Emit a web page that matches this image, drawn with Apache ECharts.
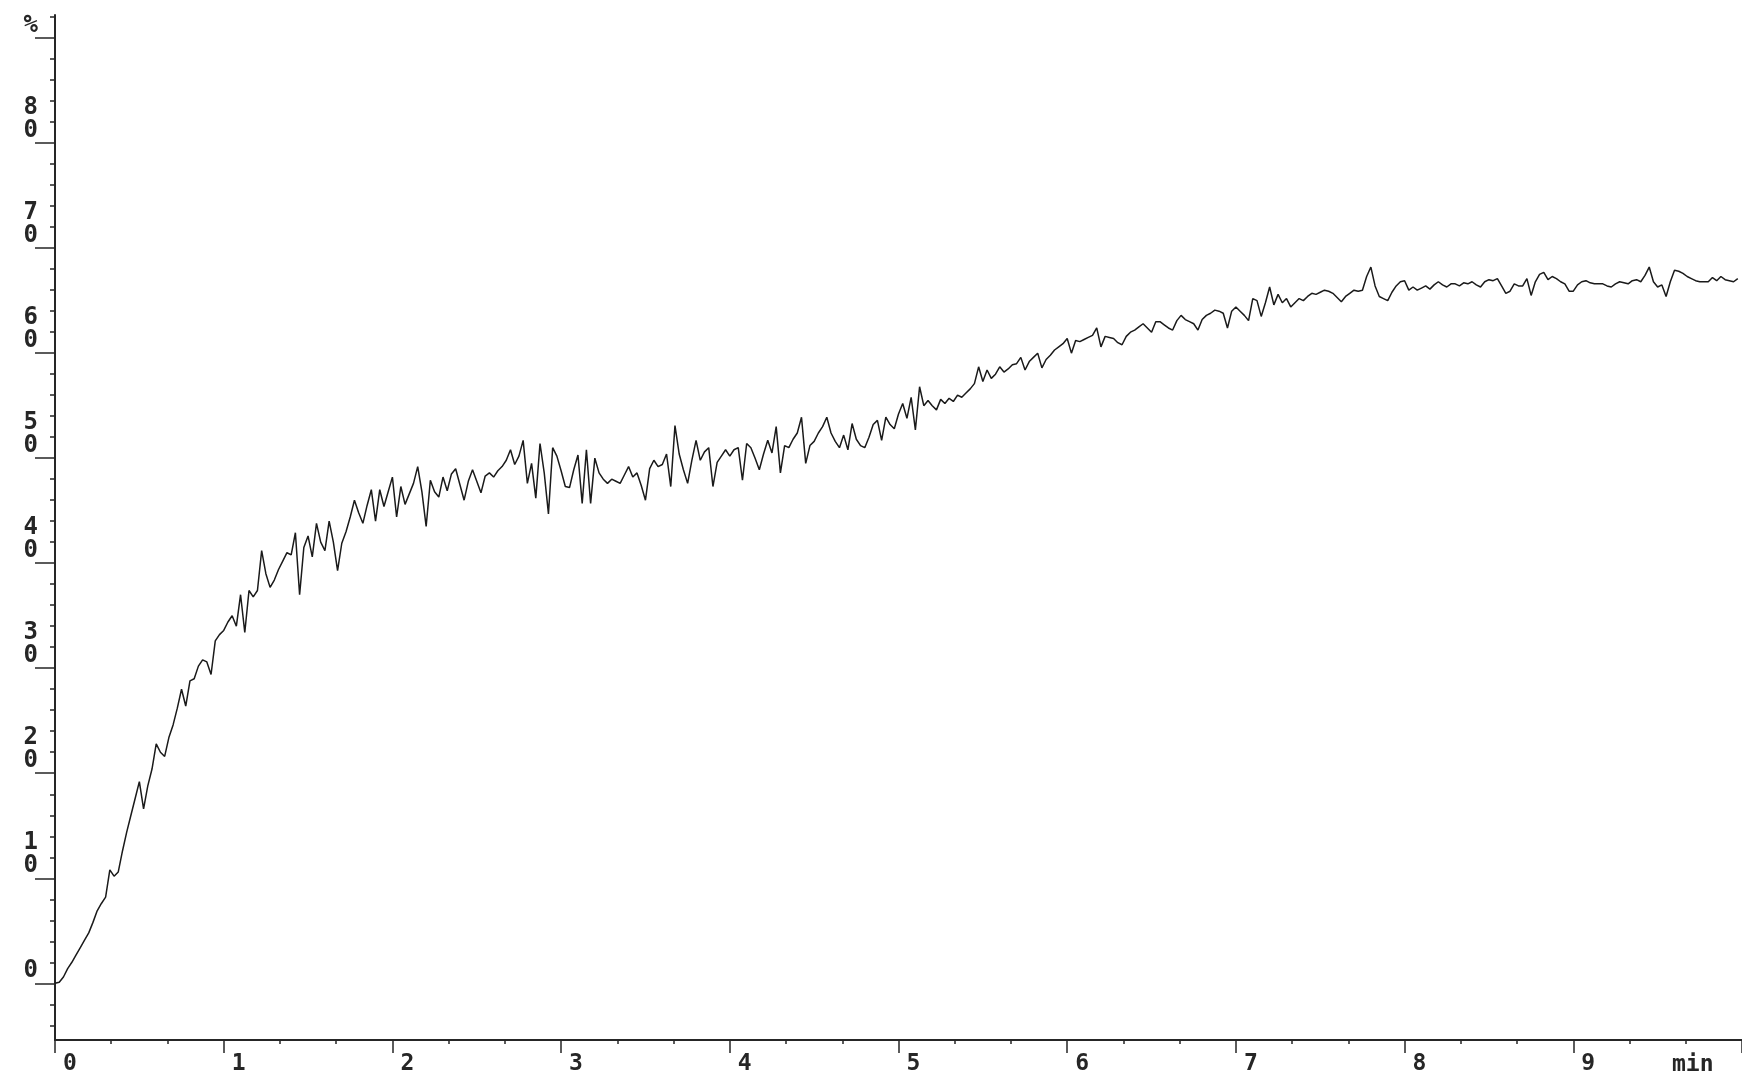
<!DOCTYPE html>
<html>
<head>
<meta charset="utf-8">
<title>Trace</title>
<script src="https://cdn.jsdelivr.net/npm/echarts@6/dist/echarts.min.js"></script>
<style>
  html, body { margin: 0; padding: 0; background: #fff; }
  #chart { width: 1742px; height: 1077px; }
</style>
</head>
<body>
<div id="chart"></div>
<script>
// sampling interval of the trace, minutes
const sampleStep = 0.025;

// signal in %, one value per sample (4 per 0.1 min)
const signal = [
  0.0, 0.1, 0.6, 1.4,    2.0, 2.7, 3.4, 4.1,    4.8, 5.8, 6.9, 7.6,    8.2, 10.8, 10.2, 10.6,
  12.6, 14.4, 16.0, 17.6, 19.2, 16.6, 18.8, 20.4, 22.8, 22.0, 21.6, 23.4, 24.6, 26.2, 28.0, 26.4,
  28.8, 29.0, 30.2, 30.8, 30.6, 29.4, 32.6, 33.2, 33.6, 34.4, 35.0, 34.0, 37.0, 33.4, 37.4, 36.8,
  37.4, 41.2, 39.0, 37.7, 38.4, 39.4, 40.2, 41.0, 40.8, 42.9, 37.0, 41.5, 42.6, 40.6, 43.8, 42.0,
  41.2, 44.0, 42.0, 39.3, 41.9, 43.0, 44.4, 46.0, 44.8, 43.8, 45.5, 47.0, 44.0, 47.0, 45.4, 46.8,
  48.2, 44.4, 47.3, 45.6, 46.6, 47.6, 49.2, 46.8, 43.5, 47.9, 46.8, 46.3, 48.2, 46.9, 48.5, 49.0,
  47.5, 46.0, 47.8, 48.9, 47.8, 46.7, 48.3, 48.6, 48.2, 48.8, 49.2, 49.8, 50.8, 49.4, 50.2, 51.7,
  47.6, 49.5, 46.2, 51.4, 48.6, 44.7, 51.0, 50.2, 48.8, 47.3, 47.2, 48.9, 50.3, 45.7, 50.8, 45.7,
  50.0, 48.6, 48.0, 47.6, 48.0, 47.8, 47.6, 48.4, 49.2, 48.2, 48.6, 47.4, 46.0, 49.0, 49.8, 49.2,
  49.4, 50.4, 47.3, 53.1, 50.4, 48.9, 47.6, 49.8, 51.7, 49.8, 50.6, 51.0, 47.3, 49.6, 50.2, 50.8,
  50.2, 50.8, 51.0, 47.9, 51.4, 51.0, 50.0, 48.9, 50.4, 51.7, 50.5, 53.0, 48.6, 51.2, 51.0, 51.8,
  52.4, 53.9, 49.5, 51.2, 51.6, 52.4, 53.0, 53.9, 52.4, 51.6, 51.0, 52.2, 50.8, 53.3, 51.8, 51.2,
  51.0, 52.0, 53.2, 53.6, 51.7, 53.9, 53.2, 52.8, 54.2, 55.2, 53.8, 55.8, 52.7, 56.8, 55.0, 55.5,
  55.0, 54.6, 55.6, 55.2, 55.7, 55.4, 56.0, 55.8, 56.2, 56.6, 57.1, 58.7, 57.3, 58.4, 57.6, 58.0,
  58.7, 58.2, 58.5, 58.9, 59.0, 59.6, 58.4, 59.2, 59.6, 60.0, 58.6, 59.4, 59.8, 60.3, 60.6, 60.9,
  61.4, 60.0, 61.2, 61.1, 61.3, 61.5, 61.7, 62.4, 60.6, 61.6, 61.5, 61.4, 61.0, 60.8, 61.6, 62.0,
  62.2, 62.5, 62.8, 62.4, 62.0, 63.0, 63.0, 62.7, 62.4, 62.2, 63.1, 63.6, 63.2, 63.0, 62.8, 62.2,
  63.2, 63.6, 63.8, 64.1, 64.0, 63.8, 62.4, 64.0, 64.4, 64.0, 63.6, 63.1, 65.2, 65.0, 63.5, 64.8,
  66.3, 64.6, 65.6, 64.8, 65.2, 64.4, 64.8, 65.2, 65.0, 65.4, 65.7, 65.6, 65.8, 66.0, 65.9, 65.7,
  65.3, 64.9, 65.4, 65.7, 66.0, 65.9, 66.0, 67.3, 68.2, 66.4, 65.4, 65.2, 65.0, 65.8, 66.4, 66.8,
  66.9, 66.0, 66.3, 66.0, 66.2, 66.4, 66.1, 66.5, 66.8, 66.5, 66.3, 66.6, 66.6, 66.4, 66.7, 66.6,
  66.8, 66.5, 66.3, 66.8, 67.0, 66.9, 67.1, 66.4, 65.7, 65.9, 66.6, 66.4, 66.4, 67.1, 65.5, 66.8,
  67.5, 67.7, 67.0, 67.3, 67.1, 66.8, 66.6, 65.9, 65.9, 66.5, 66.8, 66.9, 66.7, 66.6, 66.6, 66.6,
  66.4, 66.3, 66.6, 66.8, 66.7, 66.6, 66.9, 67.0, 66.8, 67.4, 68.2, 66.8, 66.3, 66.5, 65.4, 66.8,
  67.9, 67.8, 67.6, 67.3, 67.1, 66.9, 66.8, 66.8, 66.8, 67.2, 66.9, 67.3, 67.0, 66.9, 66.8, 67.1
];

// axis ticks
const yMajorTicks = [0, 10, 20, 30, 40, 50, 60, 70, 80, 90];
const yMinorTicks = [-4, -2, 2, 4, 6, 8, 12, 14, 16, 18, 22, 24, 26, 28, 32, 34, 36, 38,
  42, 44, 46, 48, 52, 54, 56, 58, 62, 64, 66, 68, 72, 74, 76, 78, 82, 84, 86, 88, 92];
const yUnit = '%';
const xUnit = 'min';

const ink = '#262626';
const font = '"DejaVu Sans Mono", "Liberation Mono", monospace';

const chart = echarts.init(document.getElementById('chart'), null, { renderer: 'canvas' });

const option = {
  backgroundColor: '#ffffff',
  animation: false,
  textStyle: { fontFamily: font },
  grid: { left: 55, top: 15, width: 1692, bottom: 37, containLabel: false },
  xAxis: {
    type: 'value',
    min: 0,
    max: 10,
    interval: 1,
    name: xUnit,
    nameLocation: 'end',
    nameGap: -70,
    nameTextStyle: {
      color: ink, fontFamily: font, fontWeight: 'bold', fontSize: 23,
      verticalAlign: 'top', align: 'left', padding: [14, 0, 0, 0]
    },
    axisLine: { show: true, onZero: false, lineStyle: { color: ink, width: 2 } },
    axisTick: { show: true, length: 13, lineStyle: { color: ink, width: 1.5 } },
    minorTick: { show: true, splitNumber: 3, length: 4, lineStyle: { color: ink, width: 1.5 } },
    splitLine: { show: false },
    axisLabel: {
      color: ink, fontFamily: font, fontWeight: 'bold', fontSize: 23,
      align: 'left', margin: 13, padding: [0, 0, 0, 8],
      showMaxLabel: false,
      formatter: v => (v >= 10 ? '' : String(v))
    }
  },
  yAxis: [
    {
      type: 'value',
      position: 'left',
      min: -5.4,
      max: 92.2,
      axisLine: { show: true, onZero: false, lineStyle: { color: ink, width: 2 } },
      axisTick: { show: true, length: 20, customValues: yMajorTicks, lineStyle: { color: ink, width: 1.5 } },
      splitLine: { show: false },
      axisLabel: {
        customValues: yMajorTicks,
        color: ink, fontFamily: font, fontWeight: 'bold', fontSize: 24,
        lineHeight: 23, margin: 17, verticalAlign: 'bottom', padding: [0, 0, 1, 0],
        formatter: v => (v === 90 ? yUnit : String(v).split('').join('\n'))
      }
    },
    {
      // short minor ticks every 2 %
      type: 'value',
      position: 'left',
      min: -5.4,
      max: 92.2,
      axisLine: { show: false, onZero: false },
      axisTick: { show: true, length: 5, customValues: yMinorTicks, lineStyle: { color: ink, width: 1.5 } },
      splitLine: { show: false },
      axisLabel: { show: false }
    }
  ],
  series: [
    {
      type: 'line',
      yAxisIndex: 0,
      data: signal.map((v, i) => [i * sampleStep, v]),
      showSymbol: false,
      smooth: false,
      lineStyle: { color: '#1a1a1a', width: 1.5 },
      silent: true
    }
  ]
};

chart.setOption(option);
window.addEventListener('resize', () => chart.resize());
</script>
</body>
</html>
